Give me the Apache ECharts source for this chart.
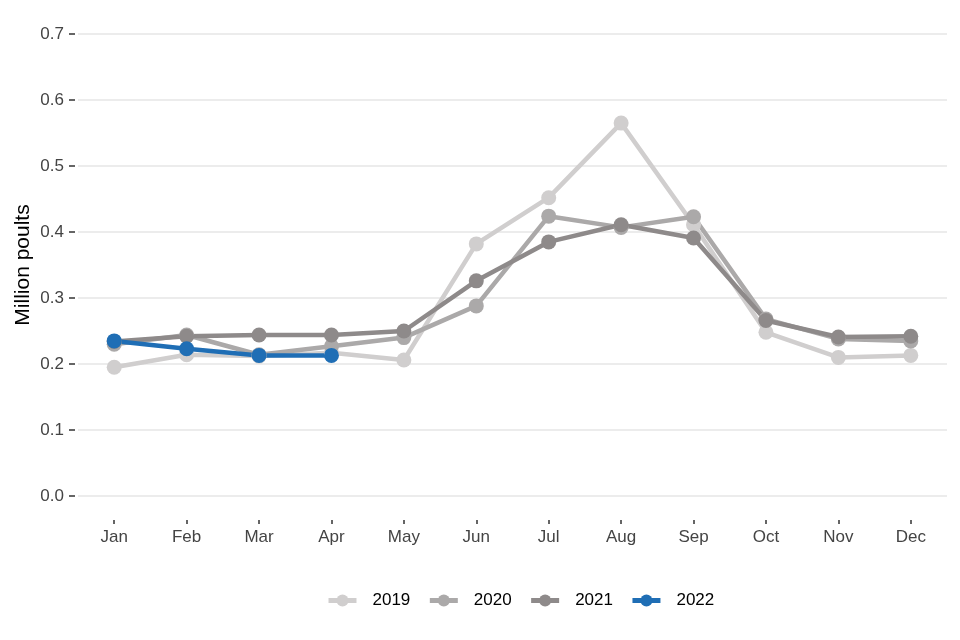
<!DOCTYPE html>
<html>
<head>
<meta charset="utf-8">
<script src="https://cdn.jsdelivr.net/npm/echarts@6/dist/echarts.min.js"></script>
<style>html,body{margin:0;padding:0;background:#fff}#c{width:960px;height:640px}</style>
</head>
<body>
<div id="c"></div>
<script>
var months = ['Jan','Feb','Mar','Apr','May','Jun','Jul','Aug','Sep','Oct','Nov','Dec'];
var y2019 = [0.195,0.214,0.212,0.217,0.206,0.382,0.452,0.565,0.411,0.248,0.210,0.213];
var y2020 = [0.230,0.244,0.214,0.227,0.240,0.288,0.424,0.407,0.423,0.268,0.238,0.235];
var y2021 = [0.234,0.242,0.244,0.244,0.250,0.326,0.385,0.411,0.391,0.266,0.241,0.242];
var y2022 = [0.235,0.223,0.213,0.213];
var yTicks = [0,0.1,0.2,0.3,0.4,0.5,0.6,0.7];

var colors = ['#D0CECE','#ABA9A9','#8E8A8A','#1F6EB5'];
function mk(name, data, color){
  return {name:name,type:'line',data:data,symbol:'circle',symbolSize:15,
    lineStyle:{width:4.5,color:color},itemStyle:{color:color},
    emphasis:{disabled:true},animation:false};
}
var chart = echarts.init(document.getElementById('c'));
chart.setOption({
  textStyle:{fontFamily:'Liberation Sans, Arial, sans-serif'},
  grid:{left:78,right:13,top:34,bottom:144},
  legend:{bottom:26,left:321,itemWidth:28,itemHeight:15,itemGap:17,
    lineStyle:{width:5},
    textStyle:{fontSize:17,color:'#000',padding:[0,0,0,11]},
    data:['2019','2020','2021','2022']},
  xAxis:{type:'category',data:months,boundaryGap:true,
    axisLine:{show:false},
    axisTick:{show:true,alignWithLabel:true,length:28,
      lineStyle:{color:'#333',width:1.5,type:[0,24,4,40]}},
    axisLabel:{fontSize:17,color:'#444',margin:33},
    splitLine:{show:false}},
  yAxis:{type:'value',min:0,max:0.7,interval:0.1,offset:3,
    name:'Million poults',nameLocation:'middle',nameGap:41,nameMoveOverlap:false,
    nameTextStyle:{fontSize:21,color:'#000'},
    axisLine:{show:false},
    axisTick:{show:true,length:6,lineStyle:{color:'#333',width:1.5}},
    axisLabel:{fontSize:17,color:'#444',margin:11,formatter:function(v){return v.toFixed(1);}},
    splitLine:{lineStyle:{color:'#E6E6E6',width:1.5}}},
  series:[mk('2019',y2019,colors[0]),mk('2020',y2020,colors[1]),mk('2021',y2021,colors[2]),mk('2022',y2022,colors[3])]
});
</script>
</body>
</html>
